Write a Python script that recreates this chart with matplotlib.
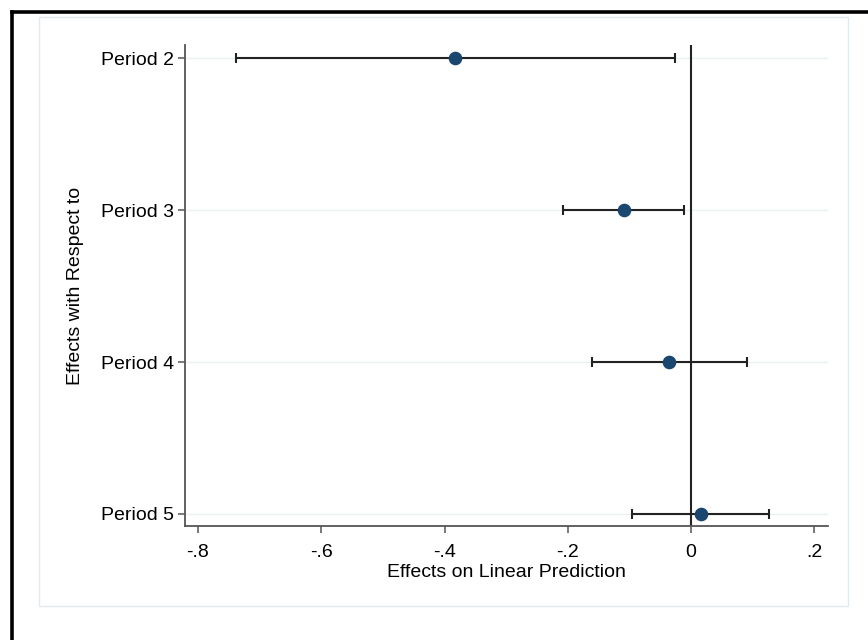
import matplotlib.pyplot as plt
from matplotlib.patches import Rectangle
from matplotlib.lines import Line2D

# Dane
periods = ["Period 2", "Period 3", "Period 4", "Period 5"]
positions = [2, 3, 4, 5]
estimates = [-0.383, -0.109, -0.036, 0.016]
ci_low = [-0.738, -0.208, -0.161, -0.096]
ci_high = [-0.026, -0.011, 0.091, 0.127]

x_ticks = [-0.8, -0.6, -0.4, -0.2, 0, 0.2]
x_tick_labels = ["-.8", "-.6", "-.4", "-.2", "0", ".2"]

plt.rcParams['font.family'] = ['Liberation Sans', 'DejaVu Sans']

fig = plt.figure(figsize=(8.68, 6.4), dpi=100)

# Ramka zewnetrzna (tylko lewa i gorna krawedz widoczna)
fig.add_artist(Line2D([12 / 868, 12 / 868], [0, 1 - 12 / 640], color="black", lw=2.6,
                      transform=fig.transFigure, zorder=-10))
fig.add_artist(Line2D([12 / 868, 1], [1 - 12 / 640, 1 - 12 / 640], color="black", lw=2.6,
                      transform=fig.transFigure, zorder=-10))

# Jasne pole wykresu
fig.add_artist(Rectangle((39 / 868, 1 - 606 / 640), (848 - 39) / 868, (606 - 17) / 640,
                         transform=fig.transFigure, facecolor="white", edgecolor="#e3eaed",
                         lw=1, zorder=-10))

ax = fig.add_axes([185 / 868, 1 - 526 / 640, (828 - 185) / 868, (526 - 45) / 640])
ax.set_facecolor("none")

for y in positions:
    ax.axhline(y, color="#eaf2f3", lw=1, zorder=0)
ax.axvline(0, color="#222222", lw=1.5, zorder=1)

err_low = [e - l for e, l in zip(estimates, ci_low)]
err_high = [h - e for e, h in zip(estimates, ci_high)]
ax.errorbar(estimates, positions, xerr=[err_low, err_high], fmt="none",
            ecolor="#222222", elinewidth=1.5, capsize=3.6, capthick=1.5, zorder=2)
ax.plot(estimates, positions, "o", color="#1a476f", markersize=8.8, zorder=3)

ax.set_xlim(-0.821, 0.222)
ax.set_ylim(5.079, 1.914)
ax.set_xticks(x_ticks)
ax.set_xticklabels(x_tick_labels)
ax.set_yticks(positions)
ax.set_yticklabels(periods)

for side in ["top", "right"]:
    ax.spines[side].set_visible(False)
for side in ["left", "bottom"]:
    ax.spines[side].set_color("#555555")
    ax.spines[side].set_linewidth(1.3)

ax.tick_params(axis="both", colors="#555555", labelcolor="black", labelsize=14,
               length=5, width=1.1)
ax.tick_params(axis="x", pad=8)
ax.tick_params(axis="y", pad=3)

ax.set_xlabel("Effects on Linear Prediction", fontsize=14, labelpad=2)
ax.set_ylabel("Effects with Respect to", fontsize=14, labelpad=12)

fig.savefig("out.png", dpi=100)
